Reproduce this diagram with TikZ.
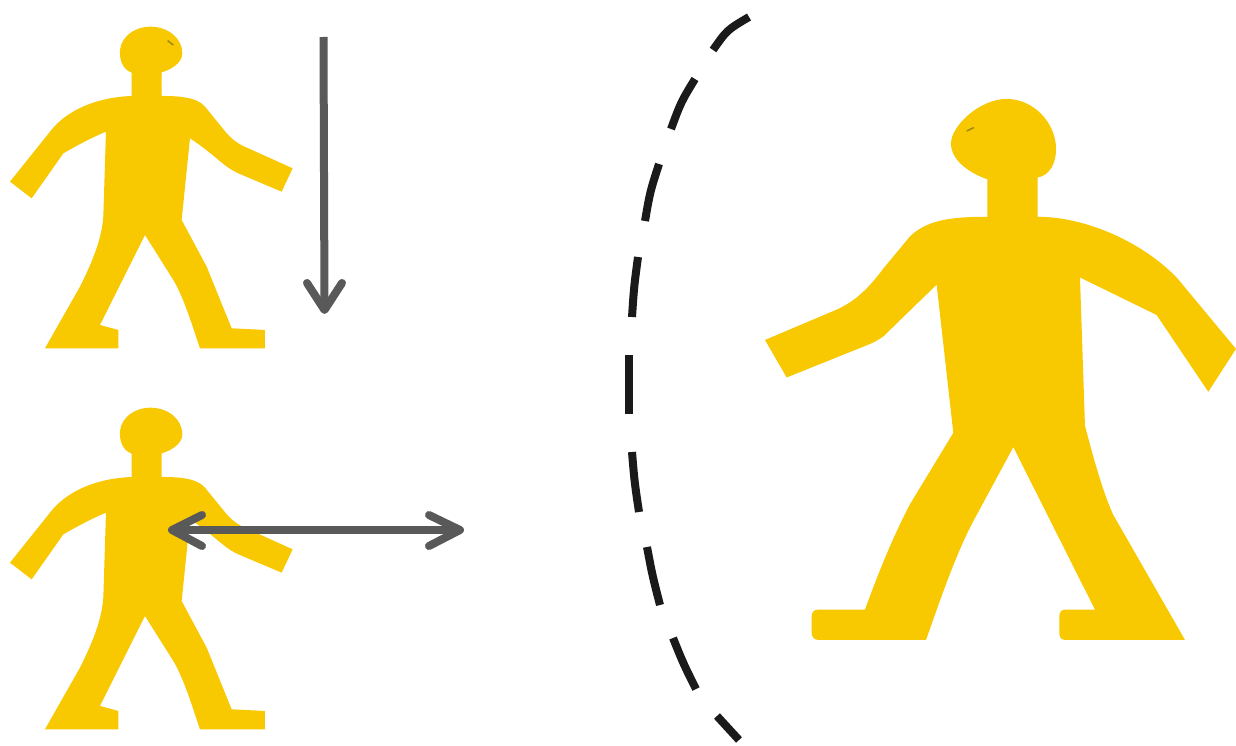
\documentclass[tikz,border=0pt]{standalone}
\usetikzlibrary{calc}
\definecolor{figfill}{HTML}{F8C800}
\definecolor{arrowgrey}{HTML}{595959}
\definecolor{arcblack}{HTML}{1A1A1A}
\definecolor{eyemark}{HTML}{A08A10}
\tikzset{
  figure/.style={fill=figfill,draw=none},
  eyedot/.style={draw=eyemark,line width=1.5pt},
  measure/.style={draw=arrowgrey,line width=8pt},
  measuretip/.style={draw=arrowgrey,line width=8pt,line join=round,line cap=round,fill=none},
  arcdash/.style={draw=arcblack,line width=8pt}
}
\newcommand{\smallfigure}{%
  \fill[figure] (395,258) -- (395,188)
    .. controls (368,178) and (358,150) .. (360,120)
    .. controls (365,75) and (410,50) .. (450,50)
    .. controls (505,50) and (547,85) .. (547,130)
    .. controls (547,160) and (510,180) .. (485,187)
    -- (485,258) .. controls (530,258) and (590,260) .. (615,290)
    -- (672,360) .. controls (695,390) and (720,405) .. (745,415)
    -- (878,475) -- (845,545) -- (715,490) .. controls (670,470) and (640,430) .. (570,385)
    -- (545,630) -- (620,770) -- (695,955) -- (795,960) -- (795,1015) -- (600,1015)
    .. controls (575,940) and (550,860) .. (520,810) -- (435,675)
    -- (300,945) -- (355,960) -- (355,1015) -- (135,1015) -- (240,830)
    .. controls (275,760) and (305,690) .. (310,620) -- (318,365)
    .. controls (270,385) and (225,410) .. (190,430)
    -- (95,565) -- (30,515) -- (150,365) .. controls (200,300) and (290,262) .. (395,258) -- cycle;}
\begin{document}
\begin{tikzpicture}[x=1pt,y=-1pt]
\useasboundingbox (0,0) rectangle (1236,746);
\fill[white] (0,0) rectangle (1236,746);

% top small figure
\begin{scope}[shift={(0,10)},x=0.3333pt,y=-0.3333pt]
  \smallfigure
  \draw[eyedot] (503,92) -- (520,105);
\end{scope}
% bottom small figure
\begin{scope}[shift={(0,391)},x=0.3333pt,y=-0.3333pt]
  \smallfigure
\end{scope}
% large figure
\begin{scope}[shift={(750,90)},x=0.3333pt,y=-0.3571pt]
  \fill[figure] (712,355) -- (712,250)
    .. controls (665,235) and (603,200) .. (603,150)
    .. controls (603,100) and (690,25) .. (770,25)
    .. controls (850,25) and (915,90) .. (918,160)
    .. controls (920,210) and (895,240) .. (863,245)
    -- (863,355) .. controls (1000,355) and (1170,420) .. (1280,525)
    -- (1458,725) -- (1375,845) -- (1220,630) -- (990,525)
    -- (1005,940) .. controls (1030,1030) and (1060,1130) .. (1090,1190)
    -- (1305,1540) -- (945,1540) .. controls (932,1540) and (928,1530) .. (928,1520)
    -- (928,1475) .. controls (928,1462) and (935,1455) .. (945,1455) -- (1035,1455)
    -- (790,1000) -- (680,1190) .. controls (620,1290) and (570,1430) .. (528,1540)
    -- (205,1540) .. controls (192,1540) and (185,1530) .. (185,1520)
    -- (185,1475) .. controls (185,1462) and (192,1455) .. (205,1455) -- (345,1455)
    .. controls (390,1340) and (430,1250) .. (480,1160) -- (610,960) -- (560,545)
    -- (400,690) .. controls (385,700) and (370,708) .. (350,715)
    -- (110,805) -- (45,700) -- (260,615) .. controls (320,590) and (360,550) .. (400,500)
    -- (480,410) .. controls (530,365) and (600,355) .. (712,355) -- cycle;
  \draw[eyedot] (650,115) -- (672,105);
\end{scope}

% vertical arrow
\coordinate (vstart) at (323.5,37);
\coordinate (vend) at (324.5,310);
\coordinate (vl) at (307,283);
\coordinate (vr) at (342,283);
\draw[measure] (vstart) -- (vend);
\draw[measuretip] (vl) -- (vend) -- (vr);

% horizontal double arrow
\coordinate (hl) at (172,530);
\coordinate (hr) at (460,530);
\coordinate (hla) at (202,515);
\coordinate (hlb) at (202,546);
\coordinate (hra) at (429,515);
\coordinate (hrb) at (429,546);
\draw[measure] (hl) -- (hr);
\draw[measuretip] (hla) -- (hl) -- (hlb);
\draw[measuretip] (hra) -- (hr) -- (hrb);

% dashed arc
\foreach \xa/\ya/\xb/\yb/\xc/\yc in {
  749/17/727/30/713/50,
  695/79/681/102/671/129,
  659/164/650/192/645/221,
  638/257/634/287/632/317,
  629/355/629/385/629/414,
  632/452/634.5/482/639/512,
  647/547/652.5/576/660/605,
  673/638/683.5/664/696/689,
  717/716/728/728/739/740}{
  \draw[arcdash] (\xa,\ya) .. controls (\xb,\yb) .. (\xc,\yc);
}
\end{tikzpicture}
\end{document}
